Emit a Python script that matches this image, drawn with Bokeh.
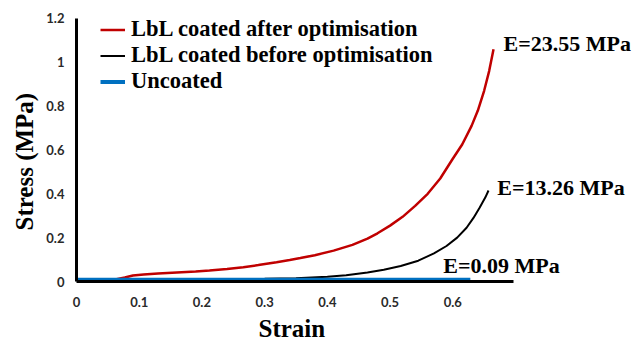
from bokeh.plotting import figure
from bokeh.models import (Label, Legend, LegendItem, FixedTicker,
                          NumeralTickFormatter, Range1d, Title)
from bokeh.embed import file_html
from bokeh.resources import INLINE

# Stress-strain curves (strain, stress in MPa)
after_strain = [0.0, 0.06, 0.077, 0.09, 0.107, 0.13, 0.16, 0.19, 0.212, 0.24,
                0.266, 0.29, 0.319, 0.34, 0.357, 0.38, 0.41, 0.44, 0.464, 0.48,
                0.50, 0.52, 0.54, 0.56, 0.58, 0.60, 0.615, 0.63, 0.64, 0.65,
                0.658, 0.665]
after_stress = [0.008, 0.008, 0.018, 0.027, 0.032, 0.036, 0.041, 0.046, 0.050,
                0.057, 0.065, 0.075, 0.088, 0.098, 0.107, 0.120, 0.141, 0.167,
                0.196, 0.220, 0.255, 0.295, 0.345, 0.400, 0.470, 0.560, 0.625,
                0.710, 0.780, 0.870, 0.960, 1.060]

before_strain = [0.0, 0.30, 0.35, 0.40, 0.43, 0.464, 0.49, 0.517, 0.545, 0.57,
                 0.59, 0.607, 0.622, 0.633, 0.643, 0.652, 0.657]
before_stress = [0.008, 0.012, 0.015, 0.022, 0.029, 0.041, 0.054, 0.071, 0.095,
                 0.128, 0.162, 0.200, 0.245, 0.290, 0.338, 0.384, 0.415]

uncoated_strain = [0.0, 0.1, 0.2, 0.3, 0.4, 0.5, 0.6, 0.628]
uncoated_stress = [0.008, 0.008, 0.008, 0.008, 0.008, 0.008, 0.008, 0.008]

series_names = ["LbL coated after optimisation", "LbL coated before optimisation", "Uncoated"]
series_colors = ["#C00000", "#000000", "#0070C0"]

moduli = ["E=23.55 MPa", "E=13.26 MPa", "E=0.09 MPa"]
moduli_x = [0.681, 0.671, 0.585]
moduli_y = [1.087, 0.429, 0.073]

x_ticks = [0, 0.1, 0.2, 0.3, 0.4, 0.5, 0.6]
y_ticks = [0, 0.2, 0.4, 0.6, 0.8, 1.0, 1.2]

SERIF = "Liberation Serif"

p = figure(width=633, height=344, output_backend="svg", toolbar_location=None,
           x_range=Range1d(0, 0.885), y_range=Range1d(0, 1.25),
           min_border_left=76, min_border_right=2, min_border_top=7,
           min_border_bottom=63)
p.outline_line_color = None
p.xgrid.visible = False
p.ygrid.visible = False
p.background_fill_color = "white"
p.border_fill_color = "white"

r_after = p.line(after_strain, after_stress, color=series_colors[0], line_width=2.5)
r_before = p.line(before_strain, before_stress, color=series_colors[1], line_width=2)
r_unc = p.line(uncoated_strain, uncoated_stress, color=series_colors[2], line_width=4)

for ax, ticks, bounds, standoff in ((p.xaxis[0], x_ticks, (0, 0.697), 9),
                                    (p.yaxis[0], y_ticks, (0, 1.2), 6)):
    ax.ticker = FixedTicker(ticks=ticks)
    ax.formatter = NumeralTickFormatter(format="0.[0]")
    ax.bounds = bounds
    ax.axis_line_color = "black"
    ax.axis_line_width = 3
    ax.major_tick_line_color = None
    ax.minor_tick_line_color = None
    ax.major_label_text_font = "Lato"
    ax.major_label_text_font_style = "bold"
    ax.major_label_text_font_size = "13px"
    ax.major_label_text_color = "#2a2a2a"
    ax.major_label_standoff = standoff

legend = Legend(items=[LegendItem(label=series_names[0], renderers=[r_after]),
                       LegendItem(label=series_names[1], renderers=[r_before]),
                       LegendItem(label=series_names[2], renderers=[r_unc])],
                location=(24, 187), orientation="vertical",
                border_line_color=None, background_fill_alpha=0,
                label_text_font=SERIF, label_text_font_style="bold",
                label_text_font_size="22.5px", label_text_color="black",
                label_standoff=6, glyph_width=25, glyph_height=25,
                label_height=25, spacing=0, padding=0, margin=0)
p.add_layout(legend, "center")

for txt, x, y in zip(moduli, moduli_x, moduli_y):
    p.add_layout(Label(x=x, y=y, text=txt, text_font=SERIF, text_font_style="bold",
                       text_font_size="22px", text_baseline="middle",
                       text_align="left", text_color="black"))

# axis titles
p.add_layout(Title(text="Strain", align="left", offset=182, standoff=6,
                   text_font=SERIF, text_font_style="bold",
                   text_font_size="25px", text_color="black"), "below")
p.add_layout(Title(text="Stress (MPa)", align="left", offset=51, standoff=12,
                   text_font=SERIF, text_font_style="bold",
                   text_font_size="25px", text_color="black"), "left")

open("out.html", "w").write(file_html(p, INLINE))
